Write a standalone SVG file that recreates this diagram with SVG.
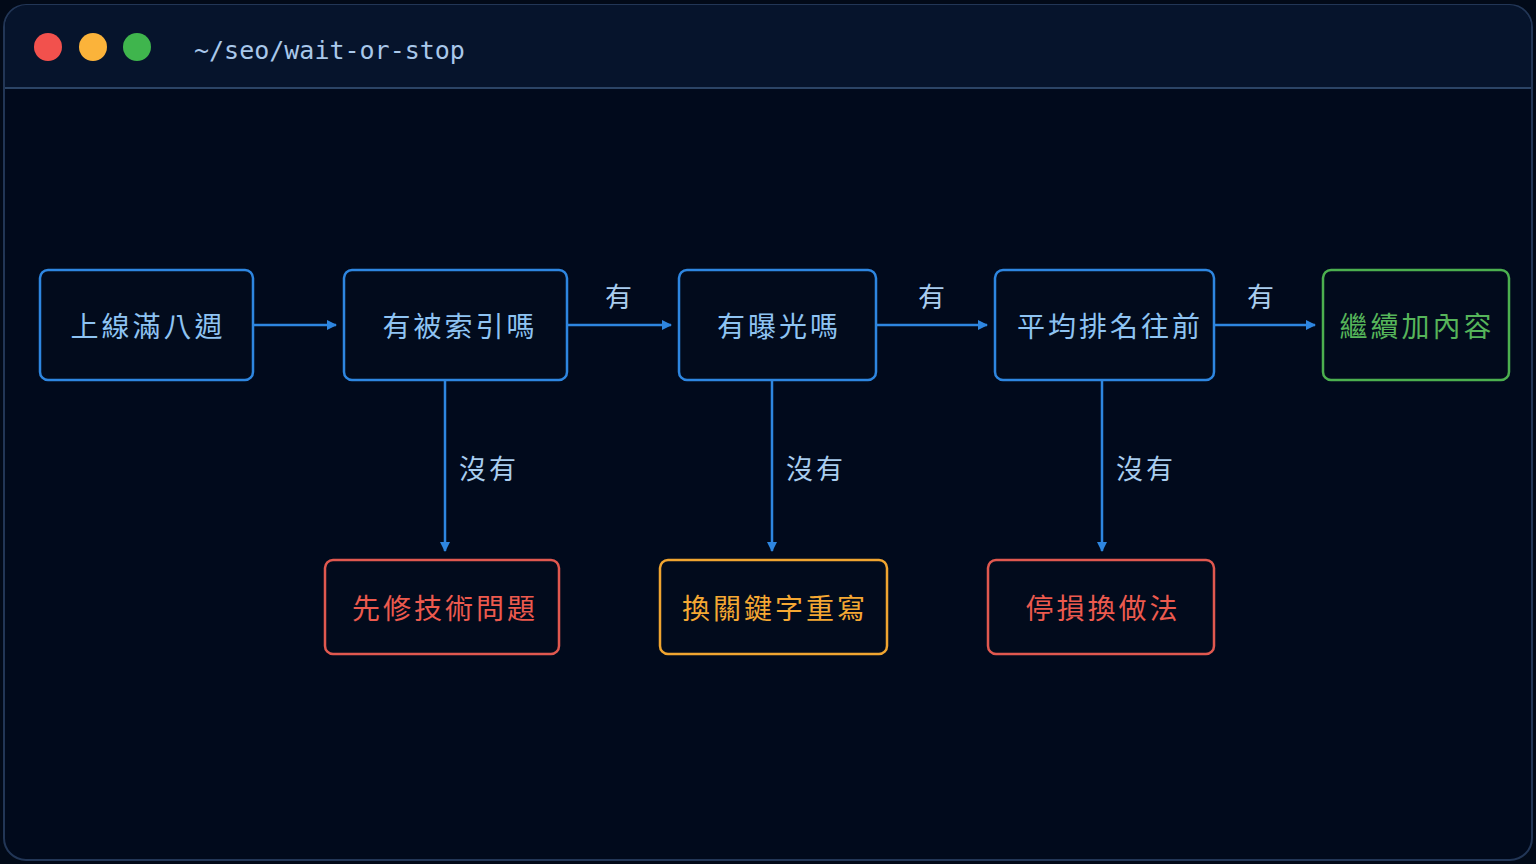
<svg xmlns="http://www.w3.org/2000/svg" width="1536" height="864" viewBox="0 0 1536 864">
<style>
.n{fill:#020b1c;stroke-width:2.5}
.b{stroke:#2e86e0}.r{stroke:#e0584f}.o{stroke:#f0a530}.g{stroke:#4cb04f}
.t{font-family:"Noto Sans CJK TC","Noto Sans",sans-serif;font-size:28px;text-anchor:middle;dominant-baseline:central;letter-spacing:3px}
.tb{fill:#8ec3f2}.tr{fill:#ec5a4e}.to{fill:#f5a833}.tg{fill:#56b55a}
.l{font-family:"Noto Sans CJK TC","Noto Sans",sans-serif;font-size:27px;fill:#a9cdef;dominant-baseline:central;letter-spacing:3px}
.c{stroke:#2e86e0;stroke-width:2.5;fill:none;marker-end:url(#a)}
</style>
<defs><marker id="a" markerWidth="10" markerHeight="10" refX="9" refY="5" orient="auto" markerUnits="userSpaceOnUse" viewBox="0 0 10 10"><path d="M0,0L10,5L0,10z" fill="#2e86e0"/></marker></defs>
<rect width="1536" height="864" fill="#020a18"/>
<rect x="4" y="5" width="1528" height="855" rx="22" fill="#010a1c" stroke="#223656" stroke-width="2"/>
<path d="M5,88H1531V27a22,22 0 0 0 -22,-22H26a22,22 0 0 0 -21,22z" fill="#06142c"/>
<line x1="5" y1="88" x2="1531" y2="88" stroke="#2b4466" stroke-width="2"/>
<circle cx="48" cy="47" r="14" fill="#f2514d"/><circle cx="93" cy="47" r="14" fill="#fbb33a"/><circle cx="137" cy="47" r="14" fill="#3fb54d"/>
<text x="194" y="50" font-family="DejaVu Sans Mono,monospace" font-size="25" fill="#a9c8ea" dominant-baseline="central">~/seo/wait-or-stop</text>
<g id="connectors">
<path class="c" d="M254,325H336"/><path class="c" d="M568,325H671"/><path class="c" d="M877,325H987"/><path class="c" d="M1215,325H1315"/>
<path class="c" d="M445,381V551"/><path class="c" d="M772,381V551"/><path class="c" d="M1102,381V551"/>
<text class="l" x="605" y="295">有</text><text class="l" x="918" y="295">有</text><text class="l" x="1247" y="295">有</text>
<text class="l" x="459" y="467">沒有</text><text class="l" x="786" y="467">沒有</text><text class="l" x="1116" y="467">沒有</text>
</g>
<g id="n1"><rect class="n b" x="40" y="270" width="213" height="110" rx="8"/><text class="t tb" x="148" y="325">上線滿八週</text></g>
<g id="n2"><rect class="n b" x="344" y="270" width="223" height="110" rx="8"/><text class="t tb" x="460" y="325">有被索引嗎</text></g>
<g id="n3"><rect class="n b" x="679" y="270" width="197" height="110" rx="8"/><text class="t tb" x="779" y="325">有曝光嗎</text></g>
<g id="n4"><rect class="n b" x="995" y="270" width="219" height="110" rx="8"/><text class="t tb" x="1110" y="325">平均排名往前</text></g>
<g id="n5"><rect class="n g" x="1323" y="270" width="186" height="110" rx="8"/><text class="t tg" x="1417" y="325">繼續加內容</text></g>
<g id="n6"><rect class="n r" x="325" y="560" width="234" height="94" rx="8"/><text class="t tr" x="445" y="607">先修技術問題</text></g>
<g id="n7"><rect class="n o" x="660" y="560" width="227" height="94" rx="8"/><text class="t to" x="775" y="607">換關鍵字重寫</text></g>
<g id="n8"><rect class="n r" x="988" y="560" width="226" height="94" rx="8"/><text class="t tr" x="1103" y="607">停損換做法</text></g>
</svg>
